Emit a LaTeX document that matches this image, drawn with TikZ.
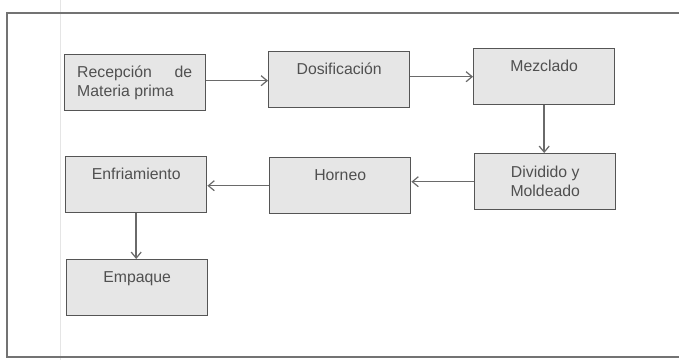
\documentclass[tikz,border=0pt]{standalone}
\usepackage{fontspec}
\setmainfont{Liberation Sans}
\usetikzlibrary{arrows.meta}
\definecolor{boxfill}{HTML}{E6E6E6}
\definecolor{boxline}{HTML}{555555}
\definecolor{txt}{HTML}{505050}
\definecolor{arr}{HTML}{6A6A6A}
\tikzset{
  stepbox/.style={draw=boxline, fill=boxfill, line width=1.4pt, minimum width=141pt, minimum height=56pt, inner sep=0pt, anchor=north west},
  lbl/.style={text=txt, font=\fontsize{15.8}{18.5}\selectfont, inner sep=0pt, anchor=base},
  flow/.style={draw=arr, line width=1.5pt, -{Straight Barb[length=6pt,width=10pt,line width=1.2pt]}},
}
\begin{document}
\begin{tikzpicture}[x=1pt,y=-1pt]
\useasboundingbox (0,0) rectangle (679,360);
\fill[white] (0,0) rectangle (679,360);
% faint page margin line and outer frame
\draw[black!10, line width=0.8pt] (60,0) -- (60,360);
\draw[black!55, line width=1.2pt] (679,13) -- (7,13) -- (7,357) -- (679,357);
% boxes
\node[stepbox] (rec) at (64,54) {};
\node[stepbox] (dos) at (268,51) {};
\node[stepbox] (mez) at (473,48) {};
\node[stepbox] (div) at (474,153) {};
\node[stepbox] (hor) at (269,157) {};
\node[stepbox] (enf) at (65,156) {};
\node[stepbox] (emp) at (66,259) {};
% labels
\node[lbl, anchor=north west, align=left] (recl) at ([xshift=13pt,yshift=-12pt]rec.north west) {\makebox[115pt][s]{Recepción\hfill de}\\Materia prima};
\node[lbl] (dosl) at ([yshift=-23pt]dos.north) {Dosificación};
\node[lbl] (mezl) at ([yshift=-23pt]mez.north) {Mezclado};
\node[lbl, anchor=north, align=center] (divl) at ([yshift=-13pt]div.north) {Dividido y\\Moldeado};
\node[lbl] (horl) at ([yshift=-23pt]hor.north) {Horneo};
\node[lbl] (enfl) at ([yshift=-23pt]enf.north) {Enfriamiento};
\node[lbl] (empl) at ([yshift=-23pt]emp.north) {Empaque};
% connectors
\draw[flow] ([yshift=2pt]rec.east) -- ([yshift=2pt]rec.east -| dos.west);
\draw[flow] (dos.east |- mez.west) -- (mez.west);
\draw[flow] (mez.south) -- (mez.south |- div.north);
\draw[flow] (div.west) -- (div.west -| hor.east);
\draw[flow] (hor.west) -- (hor.west -| enf.east);
\draw[flow] (enf.south) -- (enf.south |- emp.north);
\end{tikzpicture}
\end{document}
